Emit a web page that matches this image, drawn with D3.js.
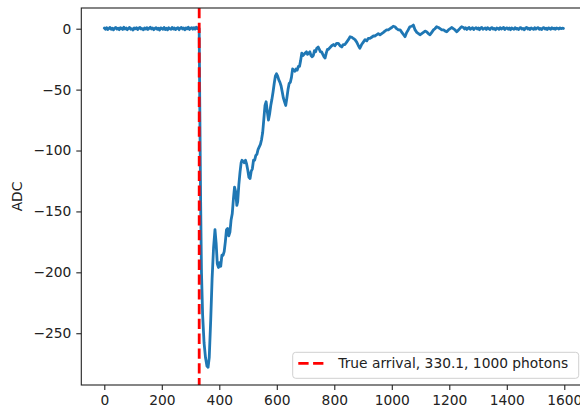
<!DOCTYPE html>
<html>
<head>
<meta charset="utf-8">
<script src="https://cdn.jsdelivr.net/npm/d3@7"></script>
<style>
  body { margin: 0; background: #fff; }
  text { font-family: "DejaVu Sans", sans-serif; }
</style>
</head>
<body>
<div id="my_dataviz"></div>
<script>
// waveform, split in three parts (before pulse, pulse, tail)
var preT = [0,4,8,12,16,20,24,28,32,36,40,44,48,52,56,60,64,68,72,76,80,84,88,92,96,100,104,108,112,116,120,124,128,132,136,140,144,148,152,156,160,164,168,172,176,180,184,188,192,196,200,204,208,212,216,220,224,228,232,236,240,244,248,252,256,260,264,268,272,276,280,284,288,292,296,300,304,308,312,316,320,324,328];
var preAdc = [0.5,-0.4,0.9,-0.7,0.2,1.1,-0.5,0.3,-0.9,0.6,
  1.0,-0.3,0.4,-0.8,0.9,0.1,-0.6,1.2,-0.2,0.5,
  -0.8,0.3,1.0,-0.4,0.0,-1.0,0.7,-0.1,0.8,-0.7,
  0.4,1.1,-0.3,0.1,-0.9,0.6,-0.3,0.9,-0.6,0.3,
  1.2,-0.2,0.6,-0.8,0.2,0.9,-0.5,0.4,-1.1,0.7,
  0.2,-0.4,1.0,-0.6,0.3,-0.9,0.8,0.0,-0.5,1.1,
  -0.3,0.6,-0.7,0.2,0.9,-0.8,0.4,1.0,-0.2,0.5,
  -0.9,0.7,-0.1,1.2,-0.6,0.3,0.8,-0.4,0.9,-0.3,
  1.3,0.2,0.8];

var pulseT = [330,332,335,338,342,347,352,357,361,365,370,375,380,385,389,393,397,401,405,409,413,417,421,425,429,433,437,441,445,449,453,457,461,464,468,472,476,479,483,487,491,495,499,503,507,511,515,519,523,527,531,535,539,543,547,551,555,559,563,567,571,575,579,583,587,591,595,599,603,607,611,615,619,623,627,631,635,639,643,647,651,655,659,663,667,671,675,679,683,687,691,695,699,703,707,711,715,719,723,727,731,735,739,744,748,752,756,760,764,768,772,776,779,783,787,791,797,802,808,814,820,826,831,837,843,849,855,861,866,872,878,884,889,895,901,907,913,918,924,930,936,941,947,953,959,965,971,976,982,988,994,1000,1005,1011,1017,1023,1029,1035,1041,1046,1052,1057,1063,1069,1075,1081,1087,1093,1098,1104,1110,1116,1121,1127,1133,1139,1145,1150,1156,1162,1168,1174,1180,1186,1191,1197,1203,1208,1214,1220,1226,1232,1238,1243];
var pulseAdc = [0,-60,-140,-200,-235,-258,-270,-277,-278,-270,-240,-205,-180,-165,-176,-193,-196,-192,-195,-186,-186,-183,-175,-165,-164,-170,-167,-157,-152,-140,-130,-134,-145,-142,-128,-118,-110,-108,-109,-110,-108,-111,-116,-122,-123,-117,-115,-108,-108,-104,-103,-99,-97,-95,-91,-85,-74,-63,-60,-68,-75,-70,-63,-58,-52,-45,-39,-37,-39,-42,-44,-47,-52,-57,-60,-63,-57,-50,-45,-44,-40,-33,-34,-35,-33,-34,-31,-31,-26,-20,-22,-21,-20,-19,-21,-20,-19,-22,-23,-22,-18,-19,-16,-15,-17,-19,-19,-21,-23,-24,-20,-17,-17,-16,-15,-14,-13,-14,-12,-12,-14,-15,-13,-13,-11,-9,-6.6,-7,-8,-9,-11,-14,-16,-13,-11,-9,-10,-8,-8,-7,-6,-6,-5,-4,-5,-4,-3,-2,-1,-1,0,1,2,1.6,0,-1,-1,-3,-5,-6.6,-3,-1,1.6,2,3,-1,-3,-4,-5,-4,-3,-2,-2.5,-4,-5,-3,-1,0,1.6,1,0,-1,-1,-2,-2.5,-1,0,1,0,-1,-2.5,-1,0.5,1.6];

var tailT = [1249,1253,1257,1261,1265,1269,1273,1277,1281,1285,1289,1293,1297,1301,1305,1309,1313,1317,1321,1325,1329,1333,1337,1341,1345,1349,1353,1357,1361,1365,1369,1373,1377,1381,1385,1389,1393,1397,1401,1405,1409,1413,1417,1421,1425,1429,1433,1437,1441,1445,1449,1453,1457,1461,1465,1469,1473,1477,1481,1485,1489,1493,1497,1501,1505,1509,1513,1517,1521,1525,1529,1533,1537,1541,1545,1549,1553,1557,1561,1565,1569,1573,1577,1581,1585,1589,1593,1597];
var tailAdc = [1.0,-0.2,0.7,-0.6,0.4,1.0,-0.5,0.2,0.8,-0.7,
  0.3,0.9,-0.2,0.6,-0.8,0.5,1.0,-0.4,0.1,0.7,
  -0.6,0.8,0.2,-0.7,0.5,0.9,-0.3,0.2,-0.8,0.6,
  0.3,-0.5,0.9,-0.2,0.4,1.0,-0.6,0.3,0.7,-0.4,
  0.5,-0.8,0.7,0.1,-0.5,0.9,-0.2,0.3,-0.7,0.6,
  0.8,-0.3,0.2,-0.8,0.5,1.0,-0.2,0.4,-0.6,0.7,
  0.1,-0.5,0.8,-0.3,0.6,0.9,-0.4,0.2,-0.7,0.5,
  0.9,-0.2,0.4,-0.6,0.7,0.2,-0.4,0.8,-0.1,0.5,
  -0.5,0.6,0.3,-0.2,0.7,0.1,0.4,0.2];

var arrival = 330.1;
var legendLabel = "True arrival, 330.1, 1000 photons";
var xTicks = [0,200,400,600,800,1000,1200,1400,1600];
var yTicks = [0,-50,-100,-150,-200,-250];
var xDomain = [-80, 1679];
var yDomain = [-292.5, 17];

// note: "top" is taken by window.top, so keep the margins in an object
var width = 580, height = 408;
var m = {left: 81.3, right: 587, top: 8, bottom: 385};

var svg = d3.select("#my_dataviz")
  .append("svg")
  .attr("width", width)
  .attr("height", height);

var x = d3.scaleLinear().domain(xDomain).range([m.left, m.right]);
var y = d3.scaleLinear().domain(yDomain).range([m.bottom, m.top]);

var pts = [];
var allT = preT.concat(pulseT, tailT);
var allV = preAdc.concat(pulseAdc, tailAdc);
for (var i = 0; i < allT.length; i++) {
  pts.push([allT[i], allV[i]]);
}

// trace
svg.append("path")
  .datum(pts)
  .attr("fill", "none")
  .attr("stroke", "#1f77b4")
  .attr("stroke-width", 2.8)
  .attr("stroke-linejoin", "round")
  .attr("stroke-linecap", "round")
  .attr("d", d3.line().x(function(d){ return x(d[0]); }).y(function(d){ return y(d[1]); }));

// true arrival line
svg.append("line")
  .attr("x1", x(arrival)).attr("x2", x(arrival))
  .attr("y1", m.top).attr("y2", m.bottom)
  .attr("stroke", "#ff0000")
  .attr("stroke-width", 2.8)
  .attr("stroke-dasharray", "10.3,4.5");

// axes
var fs = "13.8px";
var xAxis = svg.append("g")
  .attr("transform", "translate(0," + m.bottom + ")")
  .call(d3.axisBottom(x).tickValues(xTicks).tickSize(5).tickPadding(5).tickFormat(d3.format("d")));
var yAxis = svg.append("g")
  .attr("transform", "translate(" + m.left + ",0)")
  .call(d3.axisLeft(y).tickValues(yTicks).tickSize(5).tickPadding(5).tickFormat(function(d){ return d3.format("d")(d).replace("-", "\u2212"); }));

[xAxis, yAxis].forEach(function(g){
  g.selectAll("text").style("font-family", "DejaVu Sans").style("font-size", fs).attr("fill", "#222");
  g.selectAll("line").attr("stroke", "#222").attr("stroke-width", 1.1);
  g.select(".domain").remove();
});

// spines
svg.append("rect")
  .attr("x", m.left).attr("y", m.top)
  .attr("width", m.right - m.left).attr("height", m.bottom - m.top)
  .attr("fill", "none")
  .attr("stroke", "#222")
  .attr("stroke-width", 1.1);

svg.append("text")
  .attr("transform", "translate(18," + ((m.top + m.bottom) / 2) + ") rotate(-90)")
  .attr("text-anchor", "middle")
  .attr("dominant-baseline", "middle")
  .style("font-size", fs)
  .attr("fill", "#222")
  .text("ADC");

// legend, lower right
var lg = svg.append("g").attr("transform", "translate(292.7,352.3)");
lg.append("rect")
  .attr("width", 286).attr("height", 26)
  .attr("rx", 3)
  .attr("fill", "#fff").attr("fill-opacity", 0.8)
  .attr("stroke", "#d0d0d0");
lg.append("line")
  .attr("x1", 5.6).attr("x2", 33)
  .attr("y1", 11).attr("y2", 11)
  .attr("stroke", "#ff0000")
  .attr("stroke-width", 2.8)
  .attr("stroke-dasharray", "10.3,4.5");
lg.append("text")
  .attr("x", 45.6).attr("y", 16)
  .style("font-size", fs)
  .attr("fill", "#222")
  .text(legendLabel);
</script>
</body>
</html>
